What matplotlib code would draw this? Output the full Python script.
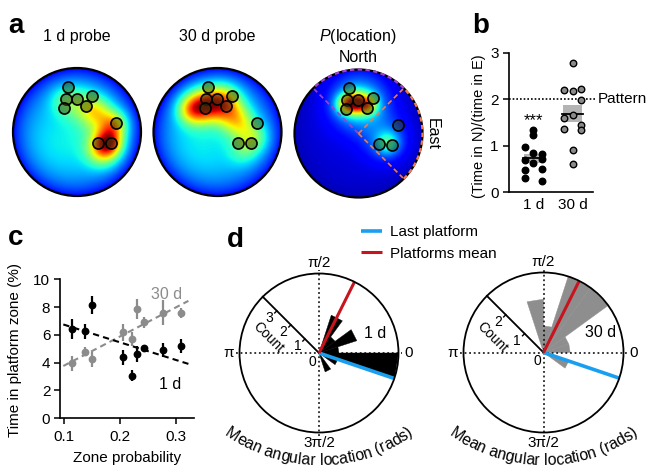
import numpy as np
import matplotlib
matplotlib.use('Agg')
import matplotlib.pyplot as plt
from matplotlib.patches import Circle, Rectangle
from matplotlib.font_manager import FontProperties

plt.rcParams['font.family'] = ['Liberation Sans', 'DejaVu Sans']
plt.rcParams['mathtext.fontset'] = 'custom'
plt.rcParams['mathtext.it'] = 'Liberation Sans:italic'
plt.rcParams['mathtext.rm'] = 'Liberation Sans'

# ---------------- data ----------------
# panel a: platform locations (unit-circle coordinates)
platform_x = [-0.145, -0.177, -0.005, 0.23, -0.198, 0.14, 0.61, 0.323, 0.531]
platform_y = [0.708, 0.516, 0.516, 0.5625, 0.38, 0.406, 0.136, -0.167, -0.177]

# occupancy hot spots: centre x, centre y, width, amplitude
map1_cx = [0.50, 0.40, 0.58, 0.30, 0.05, -0.20, -0.30, 0.35]
map1_cy = [-0.16, -0.30, 0.12, 0.32, 0.45, 0.50, -0.20, 0.05]
map1_s = [0.15, 0.18, 0.15, 0.17, 0.20, 0.17, 0.40, 0.25]
map1_a = [0.45, 0.30, 0.32, 0.25, 0.15, 0.12, 0.06, 0.10]
map1_levels = (0.30, 0.12)

map2_cx = [-0.22, 0.08, -0.42, 0.30, 0.55, 0.40, -0.30]
map2_cy = [0.42, 0.46, 0.35, 0.18, -0.08, -0.30, -0.20]
map2_s = [0.19, 0.19, 0.16, 0.18, 0.17, 0.17, 0.40]
map2_a = [0.45, 0.45, 0.30, 0.30, 0.22, 0.12, 0.06]
map2_levels = (0.30, 0.12)

map3_cx = [-0.05, 0.15, -0.22, 0.00, 0.45, 0.42, 0.00]
map3_cy = [0.47, 0.45, 0.45, 0.45, -0.16, -0.10, 0.60]
map3_s = [0.12, 0.11, 0.11, 0.28, 0.12, 0.25, 0.40]
map3_a = [0.55, 0.35, 0.30, 0.22, 0.22, 0.15, 0.08]
map3_levels = (0.08, 0.05)

map_titles = ['1 d probe', '30 d probe', '$P$(location)']
north_deg = (45, 135)
east_deg = (-45, 45)

# panel b
b_labels = ['1 d', '30 d']
b_1d_vals = [0.98, 0.69, 0.48, 0.30, 1.33, 1.24, 0.84, 0.62, 0.83, 0.72, 0.50, 0.24]
b_1d_col = [-1, -1, -1, -1, 0, 0, 0, 0, 1, 1, 1, 1]
b_30d_vals = [2.20, 1.60, 1.35, 2.78, 2.17, 1.66, 0.90, 0.61, 2.23, 1.99, 1.44, 1.34]
b_30d_col = [-1, -1, -1, 0, 0, 0, 0, 0, 1, 1, 1, 1]
b_pattern = 2.0

# panel c
c_x = [0.1137, 0.1375, 0.1494, 0.2048, 0.2220, 0.2298, 0.2423, 0.2774, 0.3083]
c_1d = [6.42, 6.28, 8.17, 4.39, 3.07, 4.60, 5.06, 4.91, 5.20]
c_1d_err = [0.75, 0.54, 0.65, 0.54, 0.42, 0.58, 0.24, 0.53, 0.48]
c_30d = [3.95, 4.79, 4.24, 6.18, 5.70, 7.86, 6.90, 7.60, 7.55]
c_30d_err = [0.56, 0.31, 0.56, 0.61, 0.48, 0.74, 0.42, 0.88, 0.36]

# panel d: rose histograms, 18-degree bins starting at 0
bin_deg = 18
d1_counts = [1, 2, 1, 2, 0, 0, 0, 0, 0, 0, 0, 0, 0, 0, 0, 0, 1, 0, 1, 4]
d2_counts = [1, 1, 3, 3, 1, 2, 0, 0, 0, 0, 0, 0, 0, 0, 0, 0, 0, 0, 1, 0]
d1_rmax, d2_rmax = 4, 3
d1_rticks = [1, 2, 3]
d2_rticks = [1, 2]
last_platform_deg = -18.7
platforms_mean_deg = 63.5

# ---------------- figure ----------------
W, H = 648, 473
fig = plt.figure(figsize=(W / 100, H / 100), dpi=100)
FS = 11


def add_ax(left, top, width, height, **kw):
    return fig.add_axes([left / W, 1 - (top + height) / H, width / W, height / H], **kw)


def ftext(x, y, s, **kw):
    return fig.text(x / W, 1 - y / H, s, **kw)


# panel letters
for x, y, s in [(8, 33.3, 'a'), (472, 33.3, 'b'), (8, 245, 'c'), (227, 246.5, 'd')]:
    ftext(x, y, s, fontsize=20, fontweight='bold', ha='left', va='baseline')

# ---------------- panel a ----------------
g = np.linspace(-1, 1, 301)
GX, GY = np.meshgrid(g, g)
GR = np.hypot(GX, GY)


def field(cxs, cys, ss, aa, levels):
    lin, lrim = levels
    F = lin - (lin - lrim) * GR ** 4
    for cx, cy, s, a in zip(cxs, cys, ss, aa):
        F = F + a * np.exp(-((GX - cx) ** 2 + (GY - cy) ** 2) / (2 * s ** 2))
    return np.clip(F, 0, 1)


maps = [field(map1_cx, map1_cy, map1_s, map1_a, map1_levels),
        field(map2_cx, map2_cy, map2_s, map2_a, map2_levels),
        field(map3_cx, map3_cy, map3_s, map3_a, map3_levels)]
centers_a = [(77, 132), (217.5, 132), (358.5, 133.5)]
R_A = 64
for i, (F, (cx, cy)) in enumerate(zip(maps, centers_a)):
    half = 1.1 * R_A
    ax = add_ax(cx - half, cy - half, 2 * half, 2 * half)
    ax.set_xlim(-1.1, 1.1)
    ax.set_ylim(-1.1, 1.1)
    ax.axis('off')
    im = ax.imshow(F, extent=(-1, 1, -1, 1), origin='lower', cmap='jet', vmin=0, vmax=1,
                   interpolation='bilinear')
    clip = Circle((0, 0), 1, transform=ax.transData)
    im.set_clip_path(clip)
    ax.add_patch(Circle((0, 0), 1, fill=False, edgecolor='black', lw=1.6, zorder=5))
    if i == 2:
        purple = '#a040d0'
        orange = '#f07a50'
        t = np.deg2rad(np.linspace(north_deg[0], north_deg[1], 100))
        ax.plot(np.cos(t), np.sin(t), color=purple, lw=1.6, ls=(0, (2, 1.5)), zorder=6)
        t = np.deg2rad(np.linspace(east_deg[0], east_deg[1], 100))
        ax.plot(np.cos(t), np.sin(t), color=orange, lw=1.6, ls=(0, (2, 1.5)), zorder=6)
        a0 = np.deg2rad(north_deg[1])
        ax.plot([0, np.cos(a0)], [0, np.sin(a0)], color=purple, lw=1.2, ls=(0, (3, 2)), zorder=4)
        for d in [east_deg[1], east_deg[0]]:
            a0 = np.deg2rad(d)
            ax.plot([0, np.cos(a0)], [0, np.sin(a0)], color=orange, lw=1.2, ls=(0, (3, 2)), zorder=4)
    ax.scatter(platform_x, platform_y, s=64, facecolor=(0.2, 0.25, 0.05, 0.5),
               edgecolor='black', linewidth=1.2, zorder=7)

ftext(77, 37, map_titles[0], fontsize=11.5, ha='center', va='center')
ftext(217, 37, map_titles[1], fontsize=11.5, ha='center', va='center')
ftext(358, 37, map_titles[2], fontsize=11.5, ha='center', va='center')
ftext(358.5, 57, 'North', fontsize=11.5, ha='center', va='center')
ftext(432, 134, 'East', fontsize=11.5, ha='center', va='center', rotation=-90)

# ---------------- panel b ----------------
axb = add_ax(509, 52.7, 84, 139.6)
axb.set_xlim(0.383, 2.515)
axb.set_ylim(0, 3)
for sp in ['top', 'right']:
    axb.spines[sp].set_visible(False)
for sp in ['left', 'bottom']:
    axb.spines[sp].set_linewidth(1.2)
axb.set_yticks([0, 1, 2, 3])
axb.tick_params(axis='y', direction='out', length=4.5, width=1.1, pad=3, labelsize=FS)
axb.set_xticks([1, 2])
axb.set_xticklabels(b_labels)
axb.tick_params(axis='x', length=0, pad=4, labelsize=FS)
jit = 0.21
for pos, vals, cols, fc in [(1, b_1d_vals, b_1d_col, 'black'), (2, b_30d_vals, b_30d_col, '#8a8a8a')]:
    v = np.array(vals)
    m = v.mean()
    sem = v.std(ddof=1) / np.sqrt(len(v))
    axb.add_patch(Rectangle((pos - 0.24, m - sem), 0.48, 2 * sem, facecolor='#b4b4b4',
                            edgecolor='none', zorder=1))
    axb.plot([pos - 0.26, pos + 0.26], [m, m], color='black', lw=1.3, zorder=2)
    axb.scatter(pos + jit * np.array(cols), v, s=22, facecolor=fc, edgecolor='black',
                linewidth=1.0, zorder=3, clip_on=False)
axb.plot([0.383, 2.56], [b_pattern, b_pattern], color='black', lw=1.2, ls=(0, (1, 1.2)),
         clip_on=False, zorder=2)
axb.text(2.63, b_pattern, 'Pattern', fontsize=FS, ha='left', va='center')
axb.text(1, 1.55, '***', fontsize=12, ha='center', va='center')
ftext(479, 126, '(Time in N)/(time in E)', fontsize=10.5, rotation=90, ha='center', va='center')

# ---------------- panel c ----------------
axc = add_ax(60, 279.3, 134, 139)
axc.set_xlim(0.0929, 0.332)
axc.set_ylim(0, 10)
for sp in ['top', 'right']:
    axc.spines[sp].set_visible(False)
for sp in ['left', 'bottom']:
    axc.spines[sp].set_linewidth(1.2)
axc.set_xticks([0.1, 0.2, 0.3])
axc.set_xticklabels(['0.1', '0.2', '0.3'])
axc.set_yticks([0, 2, 4, 6, 8, 10])
axc.tick_params(direction='out', length=4.5, width=1.1, labelsize=FS)
axc.tick_params(axis='x', pad=4)
axc.tick_params(axis='y', pad=2.5)
gray_c = '#8c8c8c'
for yv, ye, col in [(c_30d, c_30d_err, gray_c), (c_1d, c_1d_err, 'black')]:
    axc.errorbar(c_x, yv, yerr=ye, fmt='o', color=col, ms=4.6, elinewidth=1.6, capsize=0, zorder=3)
    k, b0 = np.polyfit(c_x, yv, 1)
    xx = np.array([0.0988, 0.322])
    axc.plot(xx, k * xx + b0, color=col, lw=1.5, ls=(0, (3, 2)), zorder=2)
axc.text(0.283, 8.9, '30 d', color=gray_c, fontsize=11.5, ha='center', va='center')
axc.text(0.290, 2.45, '1 d', color='black', fontsize=11.5, ha='center', va='center')
ftext(15, 350, 'Time in platform zone (%)', fontsize=FS, rotation=90, ha='center', va='center')
ftext(127, 458, 'Zone probability', fontsize=FS, ha='center', va='center')

# ---------------- panel d ----------------
renderer = fig.canvas.get_renderer()
fp_arc = FontProperties(family=['Liberation Sans'], size=11.4)


def twidth(s):
    w1, _, _ = renderer.get_text_width_height_descent(s + '|', fp_arc, ismath=False)
    w0, _, _ = renderer.get_text_width_height_descent('|', fp_arc, ismath=False)
    return w1 - w0


def curved_text(s, cx, cy_down, R):
    total = twidth(s)
    cy = H - cy_down
    for i, ch in enumerate(s):
        if ch == ' ':
            continue
        c = 0.5 * (twidth(s[:i]) + twidth(s[:i + 1]))
        phi = (c - total / 2) / R
        x = cx + R * np.sin(phi)
        y = cy - R * np.cos(phi)
        fig.text(x / W, y / H, ch, rotation=np.degrees(phi), ha='center', va='baseline',
                 rotation_mode='anchor', fontproperties=fp_arc)


def pol(deg, r):
    t = np.deg2rad(deg)
    return r * np.cos(t), r * np.sin(t)


def rose(cx, cy, rpx, counts, rmax, color, rticks, label):
    ax = add_ax(cx - rpx, cy - rpx, 2 * rpx, 2 * rpx)
    ax.set_xlim(-rmax, rmax)
    ax.set_ylim(-rmax, rmax)
    ax.axis('off')
    for k, c in enumerate(counts):
        if c == 0:
            continue
        x0, y0 = pol(k * bin_deg, c)
        x1, y1 = pol((k + 1) * bin_deg, c)
        ax.fill([0, x0, x1], [0, y0, y1], facecolor=color, edgecolor=color, lw=0.3, zorder=2)
    ax.add_patch(Circle((0, 0), rmax, fill=False, edgecolor='black', lw=1.3, zorder=5,
                        clip_on=False))
    ext = rmax * 1.05
    dot = dict(color='black', lw=1.1, ls=(0, (1.2, 1.8)), clip_on=False, zorder=3)
    ax.plot([-ext, ext], [0, 0], **dot)
    ax.plot([0, 0], [-ext, ext], **dot)
    for d, s in [(0, '0'), (90, 'π/2'), (180, 'π'), (270, '3π/2')]:
        x, y = pol(d, rmax * 1.13)
        ax.text(x, y, s, fontsize=FS, ha='center', va='center')
    # radial count axis at 135 degrees
    ra = 135
    xr, yr = pol(ra, rmax)
    ax.plot([0, xr], [0, yr], color='black', lw=1.3, zorder=3)
    upx = rpx / rmax
    p = 3.0 / upx
    q = 10.5 / upx
    ux, uy = pol(ra, 1)
    nx, ny = pol(ra + 90, 1)
    for r in rticks:
        ax.plot([r * ux, r * ux + p * nx], [r * uy, r * uy + p * ny], color='black', lw=1.0,
                zorder=3)
        ax.text(r * ux + q * nx, r * uy + q * ny, str(r), fontsize=10, ha='center', va='center')
    x0, y0 = pol(234, 10.7 / upx)
    ax.text(x0, y0, '0', fontsize=10, ha='center', va='center')
    L, P = 47 / upx, 25 / upx
    ax.text(L * ux + P * nx, L * uy + P * ny, 'Count', fontsize=10, rotation=-45,
            ha='center', va='center', rotation_mode='anchor')
    xb, yb = pol(last_platform_deg, rmax)
    lb, = ax.plot([0, xb], [0, yb], color='#1a9ff0', lw=2.6, solid_capstyle='butt', zorder=4)
    xm, ym = pol(platforms_mean_deg, rmax)
    lr, = ax.plot([0, xm], [0, ym], color='#c8141e', lw=2.2, solid_capstyle='butt', zorder=4)
    xl, yl = pol(19.4, 0.75 * rmax)
    ax.text(xl, yl, label, fontsize=11.5, ha='center', va='center')
    return ax, lb, lr


axd1, lb, lr = rose(319, 353, 79.5, d1_counts, d1_rmax, 'black', d1_rticks, '1 d')
axd2, _, _ = rose(543.5, 352.5, 80, d2_counts, d2_rmax, '#8e8e8e', d2_rticks, '30 d')
curved_text('Mean angular location (rads)', 319, 301, 164)
curved_text('Mean angular location (rads)', 543.5, 301, 164)

fig.legend(handles=[lb, lr], labels=['Last platform', 'Platforms mean'], loc='upper left',
           bbox_to_anchor=(361 / W, 1 - 225 / H), frameon=False, fontsize=FS,
           handlelength=1.35, handletextpad=0.55, borderpad=0, borderaxespad=0,
           labelspacing=0.5)

fig.savefig('out.png', dpi=100)
